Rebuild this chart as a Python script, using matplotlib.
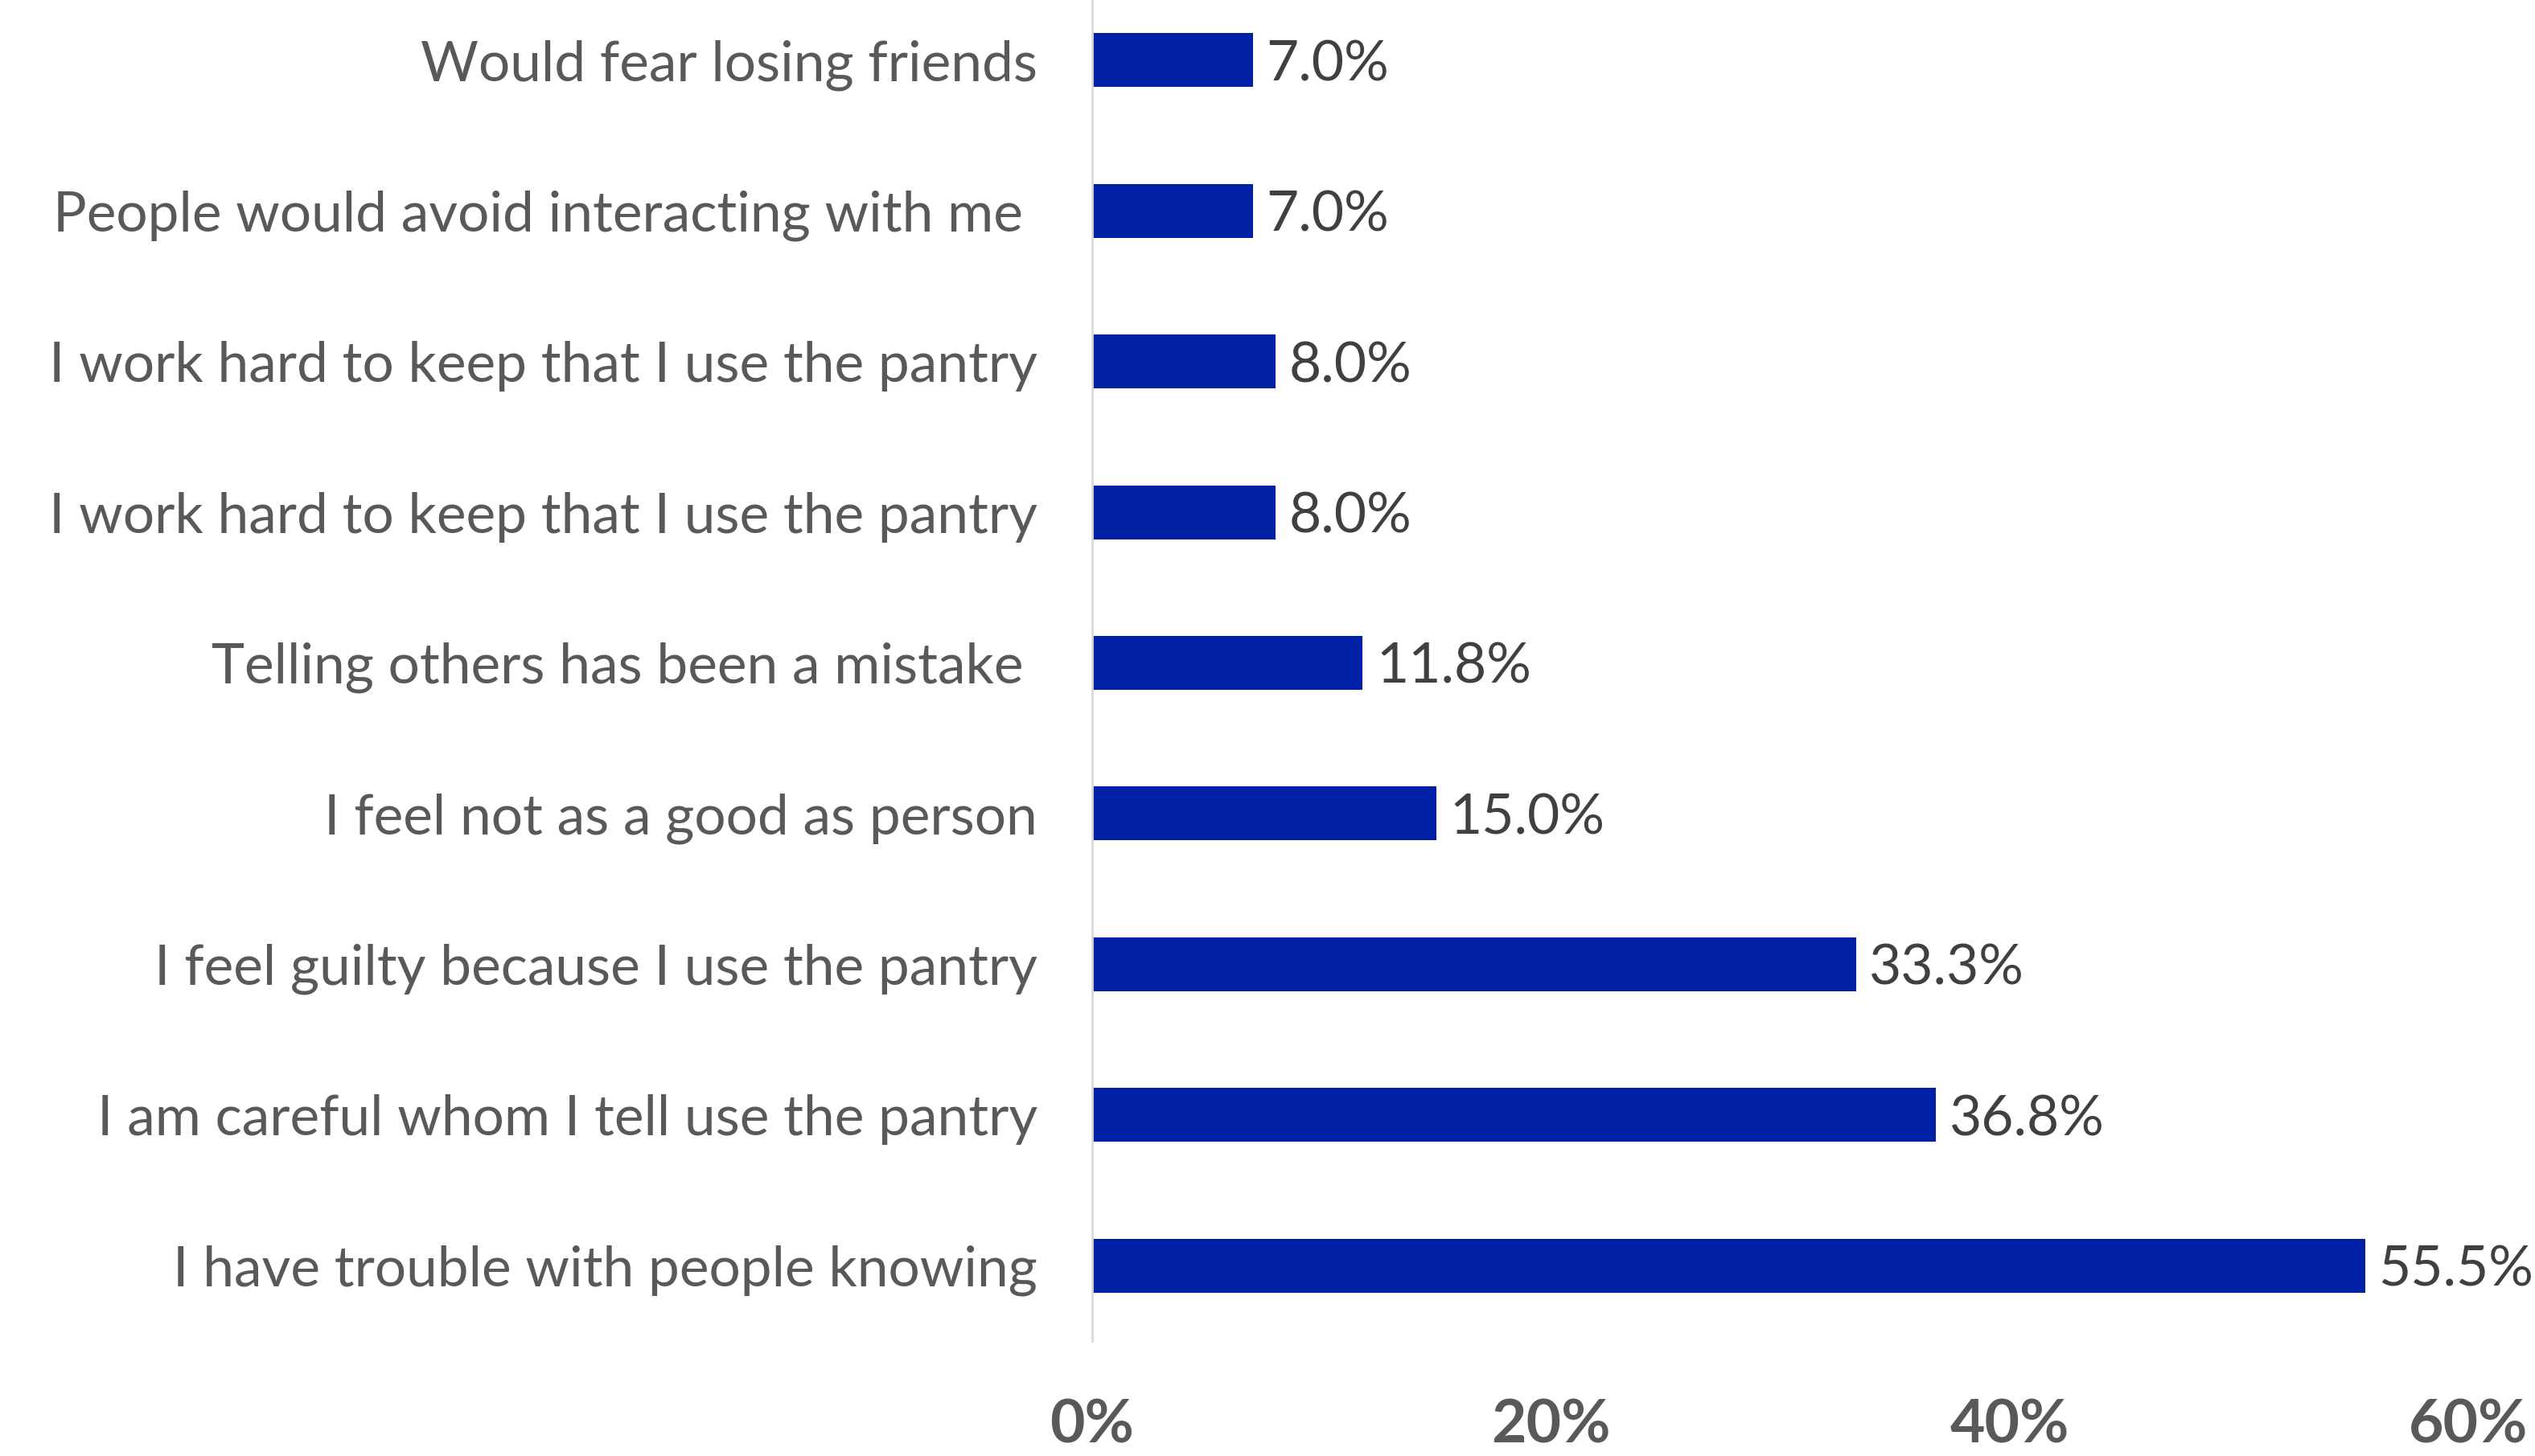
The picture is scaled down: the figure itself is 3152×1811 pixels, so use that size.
import matplotlib
matplotlib.use("Agg")
import matplotlib.pyplot as plt
import numpy as np

categories = [
    "Would fear losing friends",
    "People would avoid interacting with me ",
    "I work hard to keep that I use the pantry",
    "I work hard to keep that I use the pantry",
    "Telling others has been a mistake ",
    "I feel not as a good as person",
    "I feel guilty because I use the pantry",
    "I am careful whom I tell use the pantry",
    "I have trouble with people knowing",
]
values = [7.0, 7.0, 8.0, 8.0, 11.8, 15.0, 33.3, 36.8, 55.5]
xticks = [0, 20, 40, 60]
xtick_labels = ["0%", "20%", "40%", "60%"]

W, H, DPI = 3152, 1811, 200
fig = plt.figure(figsize=(W / DPI, H / DPI), dpi=DPI)
left = 1358 / W
right = 3069 / W
top = 1 + 19 / H
bottom = 1 - 1668 / H
ax = fig.add_axes([left, bottom, right - left, top - bottom])

pos = np.arange(len(categories))
bars = ax.barh(pos, values, height=0.357, color="#0020A5", edgecolor="none")
ax.set_ylim(len(categories) - 0.5, -0.5)
ax.set_xlim(0, 60)

ax.set_yticks(pos)
ax.set_yticklabels(categories, fontfamily="Lato", fontsize=25, color="#595959")
ax.set_xticks(xticks)
ax.set_xticklabels(xtick_labels, fontfamily="Lato", fontsize=27,
                   fontweight="bold", color="#595959")
ax.tick_params(axis="y", length=0, pad=24.5)
ax.tick_params(axis="x", length=0, pad=25.5)

for s in ["top", "right", "bottom"]:
    ax.spines[s].set_visible(False)
ax.spines["left"].set_color("#D9D9D9")
ax.spines["left"].set_linewidth(1.0)

texts = ax.bar_label(bars, labels=[f"{v:.1f}%" for v in values], padding=6,
                     fontfamily="Lato", fontsize=25, color="#404040")
for t in texts:
    t.set_verticalalignment("center_baseline")

fig.savefig("out.png", dpi=DPI, facecolor="white")
